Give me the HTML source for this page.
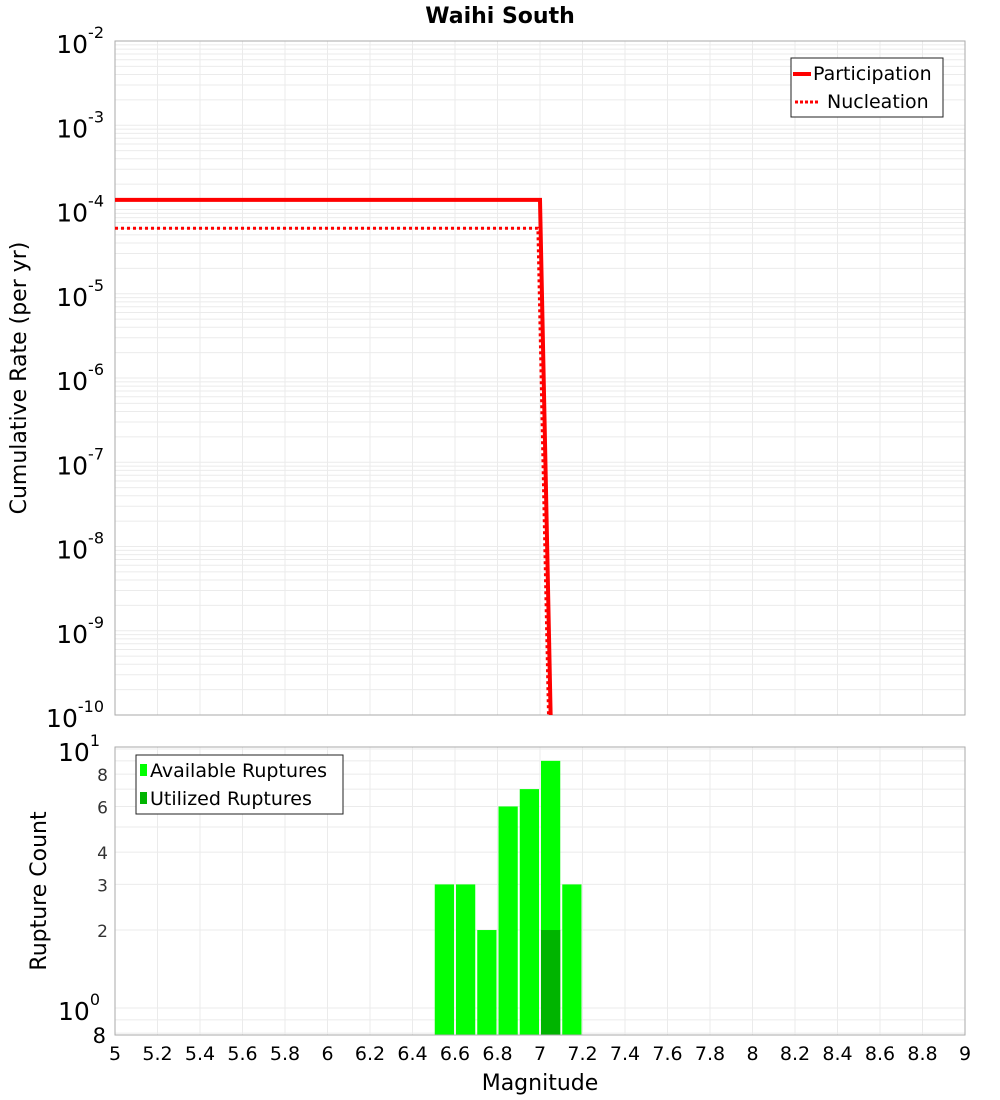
<!DOCTYPE html>
<html><head><meta charset="utf-8"><style>
body{margin:0;background:#fff;}
svg{display:block;font-family:"DejaVu Sans","Liberation Sans",sans-serif;}
</style></head><body>
<svg id="c" width="1000" height="1100" xmlns="http://www.w3.org/2000/svg">
<text x="500" y="23" text-anchor="middle" font-size="22" font-weight="bold">Waihi South</text>
<g id="topplot"></g>
<g id="botplot"></g>
</svg>
<script>
const partMag=[5,7.0,7.05];
const partRate=[1.3e-4,1.3e-4,1e-10];
const nuclMag=[5,6.99,7.04];
const nuclRate=[6e-5,6e-5,1e-10];
const binStart=[6.5,6.6,6.7,6.8,6.9,7.0,7.1];
const availCount=[3,3,2,6,7,9,3];
const usedBin=[7.0];
const usedCount=[2];
const xTicks=[5,5.2,5.4,5.6,5.8,6,6.2,6.4,6.6,6.8,7,7.2,7.4,7.6,7.8,8,8.2,8.4,8.6,8.8,9];
const topExps=[-2,-3,-4,-5,-6,-7,-8,-9,-10];
const botTicks=[2,3,4,6,8];

const NS="http://www.w3.org/2000/svg";
function mk(parent,tag,attrs,txt){const e=document.createElementNS(NS,tag);for(const k in attrs)e.setAttribute(k,attrs[k]);if(txt!==undefined)e.textContent=txt;parent.appendChild(e);return e;}
const X0=115,X1=965;
const xs=m=>X0+(m-5)/4*(X1-X0);
const T0=41,T1=715;
const ys=v=>T0+(-2-Math.log10(v))*(T1-T0)/8;
const B0=747,B1=1035;
const yb=v=>1008-Math.log10(v)*259;

const topG=document.getElementById('topplot');
for(let e=-10;e<-2;e++)for(let k=1;k<10;k++){const y=ys(k*Math.pow(10,e));if(y<T0||y>T1)continue;
 const l=mk(topG,'line',{x1:X0,x2:X1,y1:y,y2:y,stroke:'#ebebeb','stroke-width':1});
 
 }
for(const t of xTicks){const x=xs(t);
 const l=mk(topG,'line',{x1:x,x2:x,y1:T0,y2:T1,stroke:'#ebebeb','stroke-width':1});
 
 }
const fr=mk(topG,'rect',{x:X0,y:T0,width:X1-X0,height:T1-T0,fill:'none',stroke:'#aaa','stroke-width':1});


for(const e of topExps){const y=ys(Math.pow(10,e));
 const t=mk(topG,'text',{x:104,y:y+12,'text-anchor':'end','font-size':25});
 
 
 mk(t,'tspan',{},'10');mk(t,'tspan',{dy:-15,'font-size':16},String(e));}
const yt=mk(topG,'text',{x:26,y:378,'text-anchor':'middle','font-size':22,transform:'rotate(-90 26 378)'},'Cumulative Rate (per yr)');


const pts=(ms,rs)=>ms.map((m,i)=>xs(m)+','+Math.min(ys(rs[i]),T1)).join(' ');
const nl=mk(topG,'polyline',{points:pts(nuclMag,nuclRate),fill:'none',stroke:'#f00','stroke-width':3,'stroke-dasharray':'3,3'});


const pl=mk(topG,'polyline',{points:pts(partMag,partRate),fill:'none',stroke:'#f00','stroke-width':4});


const lg=mk(topG,'g',{});


mk(lg,'rect',{x:791,y:58,width:152,height:59,fill:'#fff',stroke:'#222','stroke-width':1});
mk(lg,'line',{x1:793,x2:811,y1:74,y2:74,stroke:'#f00','stroke-width':4});
mk(lg,'text',{x:813,y:80,'font-size':19},'Participation');
mk(lg,'line',{x1:795,x2:820,y1:102,y2:102,stroke:'#f00','stroke-width':3,'stroke-dasharray':'3,2'});
mk(lg,'text',{x:827,y:108,'font-size':19},'Nucleation');

const botG=document.getElementById('botplot');
for(let e=-1;e<=1;e++)for(let k=1;k<10;k++){const v=k*Math.pow(10,e);const y=yb(v);if(y<B0||y>B1)continue;
 const l=mk(botG,'line',{x1:X0,x2:X1,y1:y,y2:y,stroke:'#ebebeb','stroke-width':1});
 
 }
for(const t of xTicks){const x=xs(t);
 const l=mk(botG,'line',{x1:x,x2:x,y1:B0,y2:B1,stroke:'#ebebeb','stroke-width':1});
 
 }
const bw=(xs(0.1)-xs(0));
binStart.forEach((b,i)=>{const y=yb(availCount[i]);
 const r=mk(botG,'rect',{x:xs(b)+1,y:y,width:bw-2,height:B1-y,fill:'#00ff00'});
 
 });
usedBin.forEach((b,i)=>{const y=yb(usedCount[i]);
 const r=mk(botG,'rect',{x:xs(b)+1,y:y,width:bw-2,height:B1-y,fill:'#00b400'});
 
 });
const fr2=mk(botG,'rect',{x:X0,y:B0,width:X1-X0,height:B1-B0,fill:'none',stroke:'#aaa','stroke-width':1});


for(const v of botTicks){const t=mk(botG,'text',{x:108,y:yb(v)+7,'text-anchor':'end','font-size':17,fill:'#333'},String(v));
 
 }
[[1,'1'],[0,'0']].forEach(([e,s])=>{const t=mk(botG,'text',{x:100,y:yb(Math.pow(10,e))+12,'text-anchor':'end','font-size':25});
 
 
 mk(t,'tspan',{},'10');mk(t,'tspan',{dy:-15,'font-size':16},s);});
const b8=mk(botG,'text',{x:106,y:1043,'text-anchor':'end','font-size':21},'8');


const yt2=mk(botG,'text',{x:46,y:891,'text-anchor':'middle','font-size':22,transform:'rotate(-90 46 891)'},'Rupture Count');


for(const t of xTicks){const tx=mk(botG,'text',{x:xs(t),y:1060,'text-anchor':'middle','font-size':19},String(t));
 
 }
const xt=mk(botG,'text',{x:540,y:1090,'text-anchor':'middle','font-size':22},'Magnitude');


const lg2=mk(botG,'g',{});


mk(lg2,'rect',{x:136,y:755,width:207,height:59,fill:'#fff',stroke:'#222','stroke-width':1});
mk(lg2,'rect',{x:140,y:764,width:7,height:12,fill:'#00ff00'});
mk(lg2,'text',{x:150,y:777,'font-size':19},'Available Ruptures');
mk(lg2,'rect',{x:140,y:792,width:7,height:12,fill:'#00b400'});
mk(lg2,'text',{x:150,y:805,'font-size':19},'Utilized Ruptures');
</script>
</body></html>
